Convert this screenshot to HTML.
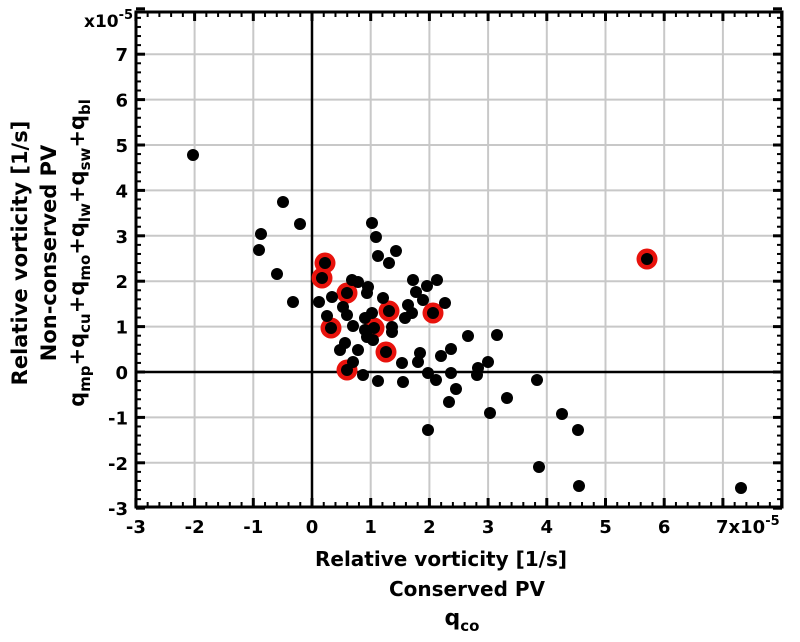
<!DOCTYPE html>
<html><head><meta charset="utf-8"><style>
html,body{margin:0;padding:0;background:#fff;}
svg{display:block;font-family:"DejaVu Sans","Liberation Sans",sans-serif;font-weight:bold;}
</style></head><body>
<svg id="s" width="800" height="642" viewBox="0 0 800 642" xmlns="http://www.w3.org/2000/svg">
<g id="grid" stroke="#c8c8c8" stroke-width="2"></g>
<line x1="312" y1="12" x2="312" y2="507" stroke="#000" stroke-width="2.5"/>
<line x1="136" y1="372" x2="782" y2="372" stroke="#000" stroke-width="2.5"/>
<g id="pts"></g>
<g id="ticks" stroke="#000"></g>
<rect x="136" y="12" width="646" height="495" fill="none" stroke="#000" stroke-width="3"/>
<g id="lbl" font-size="18" fill="#000"></g>
<text x="84" y="27" font-size="17">x10<tspan dy="-8" font-size="13">-5</tspan></text>
<text x="716" y="533" font-size="18">7x10<tspan dy="-8" font-size="13">-5</tspan></text>
<text x="441" y="566" font-size="20" text-anchor="middle">Relative vorticity [1/s]</text>
<text x="467" y="596" font-size="20" text-anchor="middle">Conserved PV</text>
<text x="462" y="625" font-size="22" text-anchor="middle">q<tspan dy="6" font-size="15">co</tspan></text>
<text transform="translate(27,253) rotate(-90)" font-size="21" text-anchor="middle">Relative vorticity [1/s]</text>
<text transform="translate(56,253) rotate(-90)" font-size="21" text-anchor="middle">Non-conserved PV</text>
<text transform="translate(84,253) rotate(-90)" font-size="21" text-anchor="middle">q<tspan dy="6" font-size="15">mp</tspan><tspan dy="-6">+q</tspan><tspan dy="6" font-size="15">cu</tspan><tspan dy="-6">+q</tspan><tspan dy="6" font-size="15">mo</tspan><tspan dy="-6">+q</tspan><tspan dy="6" font-size="15">lw</tspan><tspan dy="-6">+q</tspan><tspan dy="6" font-size="15">sw</tspan><tspan dy="-6">+q</tspan><tspan dy="6" font-size="15">bl</tspan></text>
</svg>
<script>
var NS="http://www.w3.org/2000/svg";
function X(v){return 312+v*58.7;}
function Y(v){return 372-v*45.4;}
function el(p,t,a,txt){var e=document.createElementNS(NS,t);for(var k in a)e.setAttribute(k,a[k]);if(txt!=null)e.textContent=txt;document.getElementById(p).appendChild(e);return e;}
for(var i=-3;i<=8;i++){
 if(i>-3&&i<8&&i!=0){el("grid","line",{x1:X(i),y1:12,x2:X(i),y2:507});el("grid","line",{x1:136,y1:Y(i),x2:782,y2:Y(i)});}
}
for(var j=-15;j<=40;j++){
 var v=j/5,maj=(j%5==0),L=maj?9:5,w=maj?3:2;
 var x=X(v);el("ticks","line",{x1:x,y1:507,x2:x,y2:507-L,"stroke-width":w});el("ticks","line",{x1:x,y1:12,x2:x,y2:12+L,"stroke-width":w});
 var y=Y(v);el("ticks","line",{x1:136,y1:y,x2:136+L,y2:y,"stroke-width":w});el("ticks","line",{x1:782,y1:y,x2:782-L,y2:y,"stroke-width":w});
}
for(var i=-3;i<=7;i++){
 el("lbl","text",{x:128,y:Y(i)+7,"text-anchor":"end"},String(i));
 if(i<=6) el("lbl","text",{x:X(i),y:533,"text-anchor":"middle"},String(i));
}
var blk=[[193,155],[261,234],[259,250],[283,202],[277,274],[300,224],[293,302],[372,223],[376,237],[378,256],[396,251],[389,263],[352,280],[358,282],[368,287],[367,293],[332,297],[319,302],[343,307],[383,298],[413,280],[427,286],[437,280],[416,292],[408,305],[423,300],[445,303],[412,313],[405,318],[347,315],[327,316],[353,326],[365,318],[372,313],[365,330],[367,337],[373,340],[392,327],[392,332],[345,343],[340,350],[358,350],[353,362],[363,375],[378,381],[403,382],[402,363],[420,353],[418,362],[441,356],[451,349],[468,336],[428,373],[436,380],[451,373],[456,389],[478,368],[488,362],[477,375],[449,402],[490,413],[507,398],[428,430],[537,380],[539,467],[562,414],[578,430],[579,486],[741,488],[497,335],[325,263],[322,278],[347,293],[331,328],[347,370],[374,328],[389,311],[386,352],[433,313],[647,259]];
var red=[[325,263],[322,278],[347,293],[331,328],[347,370],[374,328],[389,311],[386,352],[433,313],[647,259]];
red.forEach(function(p){el("pts","circle",{cx:p[0],cy:p[1],r:10.5,fill:"#e8120c"});});
blk.forEach(function(p){el("pts","circle",{cx:p[0],cy:p[1],r:6,fill:"#000"});});
</script>
</body></html>
